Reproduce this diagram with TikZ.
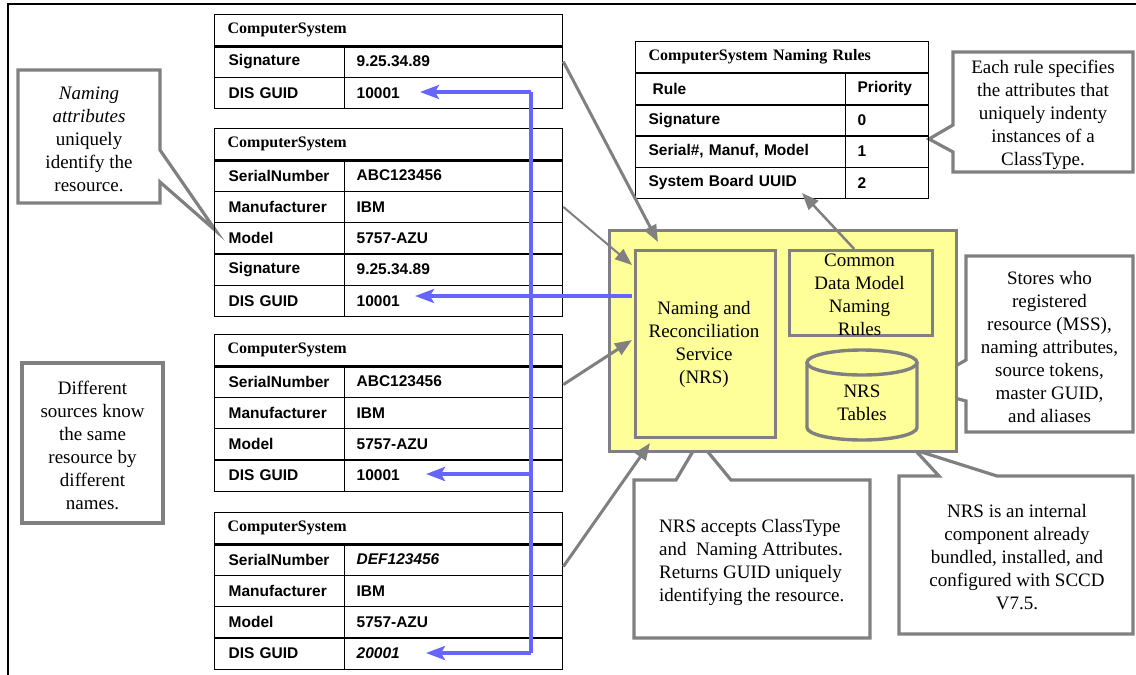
\documentclass[tikz,border=0pt]{standalone}
\usepackage{fontspec}
\setmainfont{Liberation Serif}
\newfontfamily\arialfont{Liberation Sans}
\usetikzlibrary{arrows.meta,calc}

\definecolor{calloutgray}{HTML}{808080}
\definecolor{nrsyellow}{HTML}{FFFF99}
\definecolor{guidblue}{HTML}{6666FF}

% One ComputerSystem record: name, top edge, list of key/value rows
\newcommand\cstable[3]{%
  \node[hdrcell] (#1h) at (214,#2) {ComputerSystem};
  \foreach \k/\v [count=\i] in {#3} {
    \node[keycell] (#1k\i) at (214,{#2+31.3*\i}) {\k};
    \node[valcell] (#1v\i) at (344,{#2+31.3*\i}) {\v};
  }
  \draw[line width=2pt] (#1h.south west) -- (#1h.south east);
}

\begin{document}
\begin{tikzpicture}[x=1pt,y=-1pt,
  tabline/.style={draw=black,line width=1.3pt,anchor=north west,inner ysep=0pt,align=left},
  hdrcell/.style={tabline,minimum width=348pt,minimum height=31.3pt,inner xsep=13pt,text width=322pt,
    font=\bfseries\fontsize{16}{18}\selectfont},
  keycell/.style={tabline,minimum width=130pt,minimum height=31.3pt,inner xsep=14pt,text width=102pt,
    font=\arialfont\bfseries\fontsize{15.5}{18}\selectfont},
  valcell/.style={tabline,minimum width=218pt,minimum height=31.3pt,inner xsep=12pt,text width=194pt,
    font=\arialfont\bfseries\fontsize{15.5}{18}\selectfont},
  rulehdr/.style={tabline,minimum width=293pt,minimum height=31pt,inner xsep=13pt,text width=267pt,
    font=\bfseries\fontsize{16}{18}\selectfont},
  rulekey/.style={tabline,minimum width=210pt,minimum height=31.4pt,inner xsep=13pt,text width=184pt,
    font=\arialfont\bfseries\fontsize{15.5}{18}\selectfont},
  ruleval/.style={tabline,minimum width=83pt,minimum height=31.4pt,inner xsep=12pt,text width=59pt,
    font=\arialfont\bfseries\fontsize{15.5}{18}\selectfont},
  callout/.style={draw=calloutgray,line width=3.2pt,fill=white,line join=miter},
  note/.style={font=\fontsize{19}{23}\selectfont,align=center,inner sep=0pt},
  nrsbox/.style={draw=calloutgray,line width=3.4pt,fill=nrsyellow,anchor=north west,inner sep=0pt},
  grayarrow/.style={draw=calloutgray,fill=calloutgray,line width=3pt,-{Triangle[length=17pt,width=13pt]}},
  guidline/.style={draw=guidblue,line width=3.5pt,line join=round},
  guidarrow/.style={guidline,-{Stealth[length=19pt,width=14pt,inset=4pt]}}
]
\useasboundingbox (0,0) rectangle (1136,675);

% page frame
\draw[line width=1.3pt] (8,675) -- (8,4) -- (1136,4);

% callout outlines with their pointers
\draw[callout] (18,70) -- (160,70) -- (160,150) -- (216,231) -- (160,182) -- (160,203) -- (18,203) -- cycle;
\draw[callout] (22,363) rectangle (163,523);
\draw[callout] (953,52) -- (1133,52) -- (1133,172) -- (953,172) -- (953,152) -- (929,139) -- (953,125) -- cycle;
\draw[callout] (966,256) -- (1133,256) -- (1133,432) -- (966,432) -- (966,401) -- (917,388) -- (966,360) -- cycle;
\draw[callout] (634,480) -- (676,480) -- (699,441) -- (731,480) -- (870,480) -- (870,638) -- (634,638) -- cycle;
\draw[callout] (899,476) -- (939,476) -- (915,450) -- (997,476) -- (1133,476) -- (1133,634) -- (899,634) -- cycle;

\node[note] (naming) at (89,139) {\textit{Naming}\\\textit{attributes}\\uniquely\\identify the\\resource.};
\node[note] (sources) at (92.5,445) {Different\\sources know\\the same\\resource by\\different\\names.};
\node[note] (eachrule) at (1043,115) {Each rule specifies\\the attributes that\\uniquely indenty\\instances of a\\ClassType.};
\node[note] (stores) at (1049.5,346.5) {Stores who\\registered\\resource (MSS),\\naming attributes,\\source tokens,\\master GUID,\\and aliases};
\node[note,align=left,anchor=west] (accepts) at (659,562) {NRS accepts ClassType\\and \ Naming Attributes.\\Returns GUID uniquely\\identifying the resource.};
\node[note] (internal) at (1017,557) {NRS is an internal\\component already\\bundled, installed, and\\configured with SCCD\\V7.5.};

% ComputerSystem records
\cstable{ta}{14}{Signature/9.25.34.89, DIS GUID/10001}
\cstable{tb}{128}{SerialNumber/ABC123456, Manufacturer/IBM, Model/5757-AZU, Signature/9.25.34.89, DIS GUID/10001}
\cstable{tc}{334}{SerialNumber/ABC123456, Manufacturer/IBM, Model/5757-AZU, DIS GUID/10001}
\cstable{td}{512}{SerialNumber/\textit{DEF123456}, Manufacturer/IBM, Model/5757-AZU, DIS GUID/\textit{20001}}

% naming rules table
\node[rulehdr] (rh) at (635,41) {ComputerSystem Naming Rules};
\foreach \k/\v [count=\i] in {\hspace{4pt}Rule/Priority, Signature/0, {Serial\#, Manuf, Model}/1, System Board UUID/2} {
  \node[rulekey] (rk\i) at (635,{41+31.4*\i}) {\k};
  \node[ruleval] (rv\i) at (845,{41+31.4*\i}) {\v};
}
\draw[line width=2pt] (rh.south west) -- (rh.south east);
\draw[line width=2pt] (rk1.south west) -- (rv1.south east);

% NRS area
\node[nrsbox,minimum width=347pt,minimum height=221pt] (area) at (608,229) {};
\node[nrsbox,minimum width=140pt,minimum height=187pt] (nrs) at (634,249) {};
\node[note] (nrstext) at (704,344.5) {Naming and\\Reconciliation\\Service\\(NRS)};
\node[nrsbox,minimum width=143pt,minimum height=85pt] (cdm) at (788,249) {};
\node[note] (cdmtext) at (859.5,294.5) {Common\\Data Model\\Naming\\Rules};

% NRS tables cylinder
\fill[nrsyellow] (807,362.5) -- (807,427.5) arc[start angle=180,end angle=0,x radius=55,y radius=12.5] -- (917,362.5) -- cycle;
\draw[calloutgray,line width=3.4pt] (807,362.5) -- (807,427.5) arc[start angle=180,end angle=0,x radius=55,y radius=12.5] -- (917,362.5);
\draw[calloutgray,line width=3.4pt,fill=nrsyellow] (862,362.5) ellipse[x radius=55,y radius=12.5];
\node[note] (tables) at (862,403) {NRS\\Tables};

% requests into the NRS
\coordinate (inA) at (658,242);
\coordinate (inB) at (632,265);
\coordinate (inC) at (632,340);
\coordinate (inD) at (650,443);
\draw[grayarrow] (tav1.east) -- (inA);
\draw[grayarrow,line width=2pt] (tbv2.east) -- (inB);
\draw[grayarrow] ($(tcv1.east)+(0,3)$) -- (inC);
\draw[grayarrow] ($(tdv1.east)+(0,7)$) -- (inD);
\draw[grayarrow,line width=2.5pt] ($(cdm.north)+(-7,0)$) -- (802,193);

% GUIDs handed back
\coordinate (busA) at (531,92);
\coordinate (busC) at (531,474);
\coordinate (busD) at (531,653);
\coordinate (nrsout) at (632,296);
\draw[guidline] (busD) -- (busA);
\draw[guidarrow] (busA) -- (420,92);
\draw[guidarrow] (nrsout) -- (415,296);
\draw[guidarrow] (busC) -- (426,474);
\draw[guidarrow] (busD) -- (426,653);
\end{tikzpicture}
\end{document}
